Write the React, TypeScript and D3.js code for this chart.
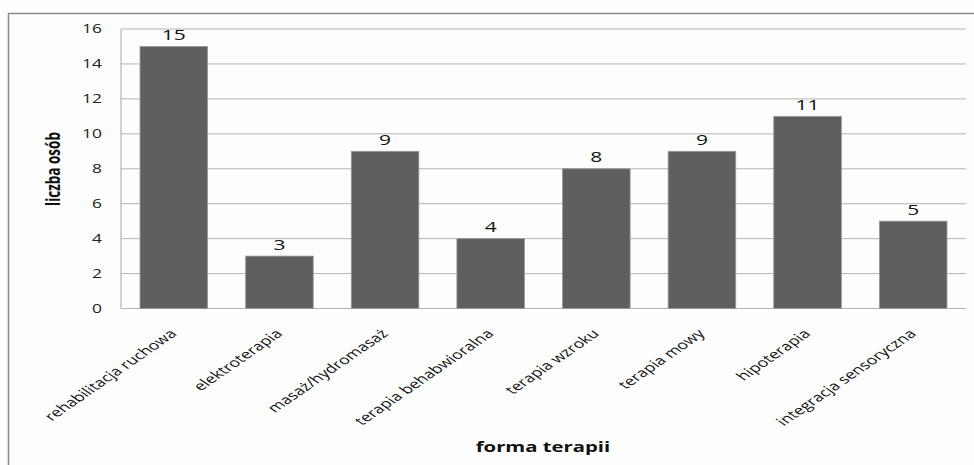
import React from "react";
import * as d3 from "d3";

const categories = [
  "rehabilitacja ruchowa",
  "elektroterapia",
  "masaż/hydromasaż",
  "terapia behabwioralna",
  "terapia wzroku",
  "terapia mowy",
  "hipoterapia",
  "integracja sensoryczna",
];
const counts = [15, 3, 9, 4, 8, 9, 11, 5];
const yTicks = [0, 2, 4, 6, 8, 10, 12, 14, 16];
const yTitle = "liczba osób";
const xTitle = "forma terapii";

const W = 974;
const H = 465;
const plot = { left: 121, right: 966, top: 29, bottom: 308.5 };
// the whole chart's lettering is drawn horizontally widened
const SX = 1.45;
const FONT = "'Open Sans', 'Noto Sans', sans-serif";

export default function App() {
  const x = d3
    .scaleBand<string>()
    .domain(categories)
    .range([plot.left, plot.right])
    .paddingInner(0.36)
    .paddingOuter(0.18);
  const y = d3.scaleLinear().domain([0, 16]).range([plot.bottom, plot.top]);
  const mid = (c: string) => (x(c) as number) + x.bandwidth() / 2;

  return (
    <svg
      width={W}
      height={H}
      style={{ position: "absolute", left: 0, top: 0, background: "#fdfdfd" }}
    >
      <rect x={0} y={0} width={W} height={H} fill="#fdfdfd" />
      {/* chart frame, open to the right and bottom */}
      <rect
        x={8.5}
        y={13.5}
        width={W + 20}
        height={H + 20}
        fill="none"
        stroke="#8c8c8c"
        strokeWidth={1.5}
      />
      {/* horizontal gridlines */}
      {yTicks.map((t) => (
        <line
          key={t}
          x1={plot.left}
          x2={plot.right}
          y1={y(t)}
          y2={y(t)}
          stroke="#b4b4b4"
          strokeWidth={1}
        />
      ))}
      <line
        x1={plot.left}
        x2={plot.left}
        y1={plot.top}
        y2={plot.bottom}
        stroke="#b4b4b4"
        strokeWidth={1.2}
      />
      {/* y tick labels */}
      {yTicks.map((t) => (
        <text
          key={"t" + t}
          transform={`translate(102,${y(t)}) scale(${SX},1)`}
          dy="0.36em"
          textAnchor="end"
          fontFamily={FONT}
          fontSize={12}
          fill="#222"
        >
          {t}
        </text>
      ))}
      {/* bars */}
      {categories.map((c, i) => (
        <rect
          key={c}
          x={x(c)}
          y={y(counts[i])}
          width={x.bandwidth()}
          height={plot.bottom - y(counts[i])}
          fill="#5f5f5f"
          stroke="#9a9a9a"
          strokeWidth={0.8}
        />
      ))}
      {/* value labels */}
      {categories.map((c, i) => (
        <text
          key={"v" + c}
          transform={`translate(${mid(c)},${y(counts[i]) - 6.5}) scale(${SX},1)`}
          textAnchor="middle"
          fontFamily={FONT}
          fontSize={14.5}
          fill="#111"
        >
          {counts[i]}
        </text>
      ))}
      {/* category labels */}
      {categories.map((c) => (
        <text
          key={"c" + c}
          transform={`translate(${mid(c) + 4},${plot.bottom + 26}) scale(${SX},1) rotate(-45)`}
          textAnchor="end"
          fontFamily={FONT}
          fontSize={12.3}
          fill="#111"
        >
          {c}
        </text>
      ))}
      {/* axis titles */}
      <text
        transform={`translate(60,169) scale(${SX},1) rotate(-90)`}
        textAnchor="middle"
        fontFamily={FONT}
        fontWeight="bold"
        fontSize={13.5}
        fill="#111"
      >
        {yTitle}
      </text>
      <text
        transform={`translate(543,452) scale(${SX},1)`}
        textAnchor="middle"
        fontFamily={FONT}
        fontWeight="bold"
        fontSize={14}
        fill="#111"
      >
        {xTitle}
      </text>
    </svg>
  );
}
